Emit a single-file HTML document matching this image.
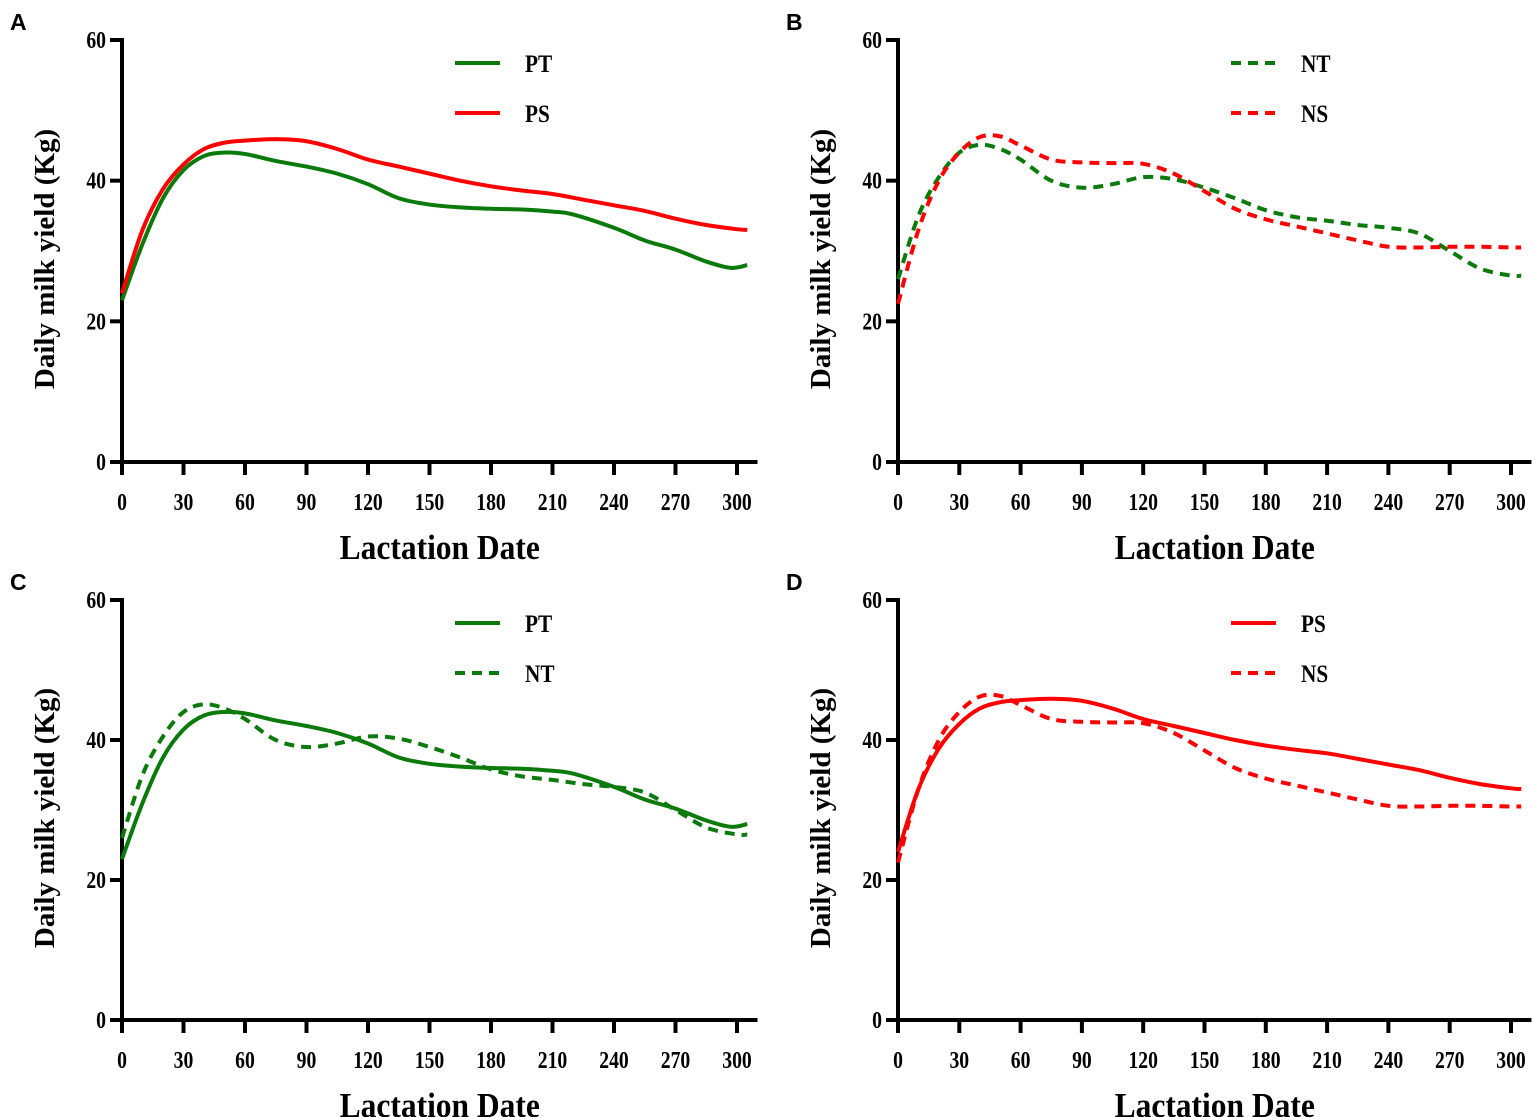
<!DOCTYPE html>
<html><head><meta charset="utf-8">
<style>
html,body{margin:0;padding:0;background:#fff;}
svg{display:block;}
.t{font-family:"Liberation Serif",serif;font-weight:bold;fill:#000;}
.p{font-family:"Liberation Sans",sans-serif;font-weight:bold;font-size:23px;fill:#000;}
</style></head>
<body>
<svg id="s" width="1535" height="1117" xmlns="http://www.w3.org/2000/svg">
<text class="p" x="10" y="30">A</text>
<text class="p" x="786" y="30">B</text>
<text class="p" x="10" y="590">C</text>
<text class="p" x="786" y="590">D</text>
<g id="g"></g>
</svg>
<script>
var PT=[[0,23],[10,31],[20,37.5],[30,41.5],[40,43.5],[50,44],[60,43.8],[75,42.8],[90,42],[105,41],[120,39.5],[135,37.5],[150,36.6],[165,36.2],[180,36],[195,35.9],[210,35.6],[220,35.2],[240,33.3],[255,31.5],[270,30.2],[285,28.5],[297,27.6],[305,28]];
var PS=[[0,24],[10,33],[20,38.8],[30,42.3],[40,44.5],[50,45.4],[60,45.7],[75,45.9],[90,45.6],[105,44.5],[120,43],[135,42],[150,41],[165,40],[180,39.2],[195,38.6],[210,38.1],[225,37.3],[240,36.5],[255,35.7],[270,34.6],[285,33.7],[300,33.1],[305,33]];
var NT=[[0,26],[10,35],[20,40.5],[30,44],[40,45.1],[50,44.5],[60,43],[75,40],[90,39],[105,39.5],[120,40.5],[135,40.2],[150,39],[165,37.5],[180,35.8],[195,34.8],[210,34.3],[225,33.7],[240,33.3],[255,32.5],[270,30],[285,27.5],[300,26.5],[305,26.5]];
var NS=[[0,22.5],[10,33],[20,40],[30,44],[40,46.2],[50,46.3],[60,45],[75,43],[90,42.6],[105,42.5],[120,42.4],[135,41],[150,38.5],[165,36],[180,34.5],[195,33.5],[210,32.5],[225,31.5],[240,30.6],[255,30.5],[270,30.6],[285,30.6],[300,30.5],[305,30.5]];
var G='#0a7a0a',R='#ff0000';
var panels=[
 {x0:122,x300:737,y0:462,y60:40,s:[[PT,G,0,'PT'],[PS,R,0,'PS']]},
 {x0:898,x300:1511,y0:462,y60:40,s:[[NT,G,1,'NT'],[NS,R,1,'NS']]},
 {x0:122,x300:737,y0:1020,y60:600,s:[[PT,G,0,'PT'],[NT,G,1,'NT']]},
 {x0:898,x300:1511,y0:1020,y60:600,s:[[PS,R,0,'PS'],[NS,R,1,'NS']]}
];
function st(x,y,sz,sx,anchor,txt){return '<text class="t" font-size="'+sz+'" text-anchor="'+anchor+'" transform="translate('+x+','+y+') scale('+sx+',1)">'+txt+'</text>';}
var h='';
panels.forEach(function(p){
 var sx=function(d){return p.x0+(p.x300-p.x0)*d/300;};
 var sy=function(v){return p.y0-(p.y0-p.y60)*v/60;};
 var xe=sx(310);
 h+='<line x1="'+p.x0+'" y1="'+(p.y60-2)+'" x2="'+p.x0+'" y2="'+(p.y0+2)+'" stroke="#000" stroke-width="4"/>';
 h+='<line x1="'+(p.x0-2)+'" y1="'+p.y0+'" x2="'+xe+'" y2="'+p.y0+'" stroke="#000" stroke-width="4"/>';
 for(var v=0;v<=60;v+=20){var y=sy(v);
  h+='<line x1="'+(p.x0-12)+'" y1="'+y+'" x2="'+p.x0+'" y2="'+y+'" stroke="#000" stroke-width="4"/>';
  h+=st(p.x0-16,y+8,24,0.82,'end',v);}
 for(var d=0;d<=300;d+=30){var x=sx(d);
  h+='<line x1="'+x+'" y1="'+p.y0+'" x2="'+x+'" y2="'+(p.y0+13)+'" stroke="#000" stroke-width="4"/>';
  h+=st(x,p.y0+48,24,0.82,'middle',d);}
 var cx=(p.x0+xe)/2;
 h+=st(cx,p.y0+97,35,0.9,'middle','Lactation Date');
 var ly=(p.y0+p.y60)/2+8;
 h+='<text class="t" font-size="29" transform="translate('+(p.x0-68)+','+ly+') rotate(-90)" text-anchor="middle">Daily milk yield (Kg)</text>';
 p.s.forEach(function(s,i){
  var pts=s[0].map(function(q){return [sx(q[0]),sy(q[1])];});
  var d='M'+pts[0][0]+','+pts[0][1];
  for(var k=0;k<pts.length-1;k++){
   var a=pts[Math.max(k-1,0)],b=pts[k],c=pts[k+1],e=pts[Math.min(k+2,pts.length-1)];
   d+=' C'+(b[0]+(c[0]-a[0])/6)+','+(b[1]+(c[1]-a[1])/6)+' '+(c[0]-(e[0]-b[0])/6)+','+(c[1]-(e[1]-b[1])/6)+' '+c[0]+','+c[1];
  }
  var dash=s[2]?' stroke-dasharray="10 7"':'';
  h+='<path d="'+d+'" fill="none" stroke="'+s[1]+'" stroke-width="4"'+dash+'/>';
  var lx=p.x0+333, yy=p.y60+23+i*50;
  h+='<line x1="'+lx+'" y1="'+yy+'" x2="'+(lx+45)+'" y2="'+yy+'" stroke="'+s[1]+'" stroke-width="4"'+dash+'/>';
  h+=st(lx+70,yy+9,25,0.85,'start',s[3]);
 });
});
document.getElementById('g').innerHTML=h;
</script>
</body></html>
